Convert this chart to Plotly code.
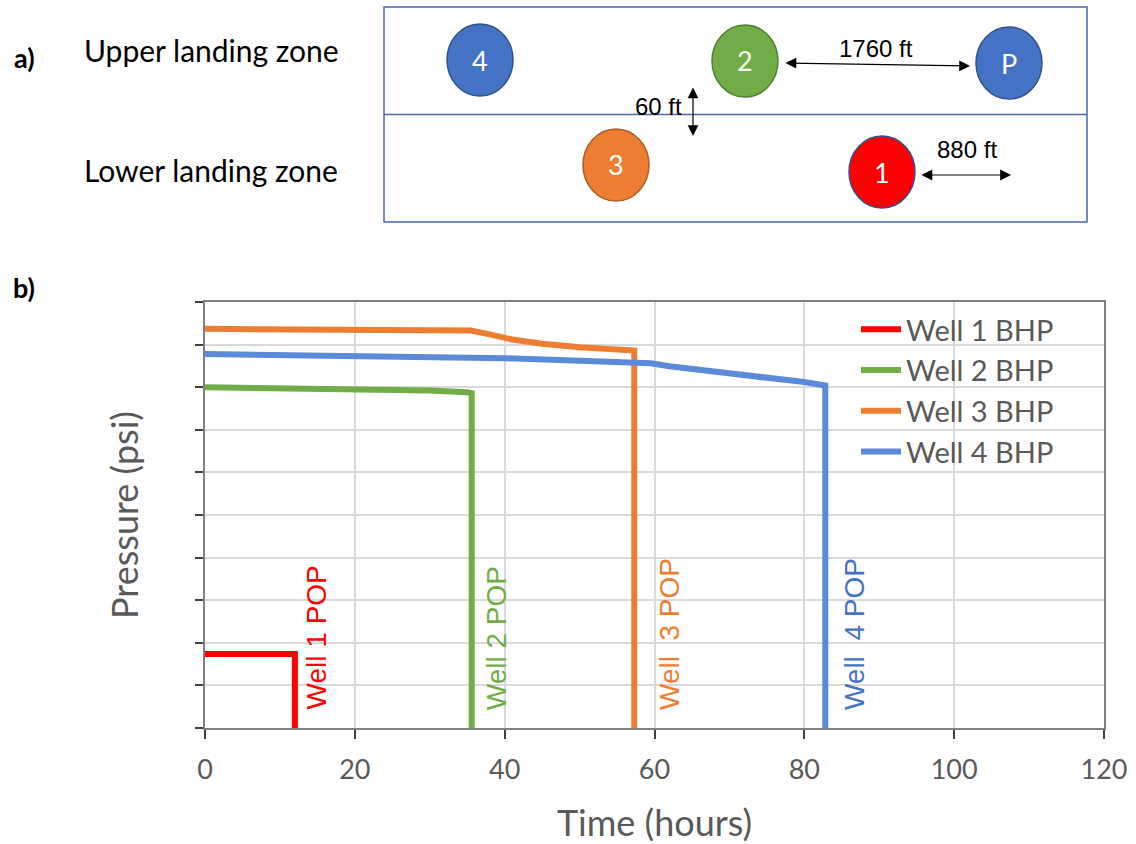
import plotly.graph_objects as go

# ---------------- data ----------------
well1_t = [0, 12.0, 12.0]
well1_p = [1.74, 1.74, 0]

well2_t = [0, 10, 20, 30, 35.0, 35.6, 35.6]
well2_p = [8.00, 7.98, 7.96, 7.92, 7.88, 7.86, 0]

well3_t = [0, 10, 20, 30, 35.5, 38, 41, 45, 50, 57.3, 57.3]
well3_p = [9.37, 9.36, 9.34, 9.33, 9.33, 9.24, 9.12, 9.02, 8.94, 8.86, 0]

well4_t = [0, 10, 20, 30, 40, 50, 57, 59.5, 62, 66, 71, 75, 80, 82.8, 82.8]
well4_p = [8.78, 8.76, 8.73, 8.71, 8.68, 8.62, 8.57, 8.56, 8.49, 8.41, 8.32, 8.24, 8.12, 8.04, 0]

series_names = ["Well 1 BHP", "Well 2 BHP", "Well 3 BHP", "Well 4 BHP"]
pop_labels = ["Well 1 POP", "Well 2 POP", "Well\u00a0 3 POP", "Well\u00a0 4 POP"]
pop_label_t = [14.9, 38.9, 62.1, 86.8]
x_ticks = [0, 20, 40, 60, 80, 100, 120]

line_colors = ["#FF0000", "#70AD47", "#ED7D31", "#5B8AD8"]
label_colors = ["#FF0000", "#70AD47", "#ED7D31", "#4472C4"]

# ---------------- figure geometry ----------------
W, H = 1136, 844
ML, MR, MT, MB = 205, 32, 302, 116
PW, PH = W - ML - MR, H - MT - MB


def X(px):
    return (px - ML) / PW


def Y(py):
    return (H - MB - py) / PH


fig = go.Figure()
for t, p, name, col in zip([well1_t, well2_t, well3_t, well4_t],
                           [well1_p, well2_p, well3_p, well4_p],
                           series_names, line_colors):
    fig.add_trace(go.Scatter(x=t, y=p, mode="lines", name=name,
                             line=dict(color=col, width=6)))

annotations = []
for lab, t, col in zip(pop_labels, pop_label_t, label_colors):
    annotations.append(dict(x=t, y=0.38, xref="x", yref="y", text=lab, showarrow=False,
                            textangle=-90, xanchor="center", yanchor="bottom",
                            font=dict(family="Liberation Sans, Arial", size=28, color=col)))

# ---------------- schematic (panel a) ----------------
shapes = []
box_col = "#4A69A8"
shapes.append(dict(type="rect", xref="paper", yref="paper", x0=X(384), x1=X(1087), y0=Y(222), y1=Y(7),
                   line=dict(color=box_col, width=1.5), fillcolor="rgba(0,0,0,0)"))
shapes.append(dict(type="line", xref="paper", yref="paper", x0=X(384), x1=X(1087), y0=Y(114.5), y1=Y(114.5),
                   line=dict(color=box_col, width=1.5)))

wells = [  # label, cx, cy, fill, outline
    ("4", 480, 60, "#4472C4", "#2F528F"),
    ("2", 745, 61, "#70AD47", "#507E32"),
    ("P", 1009, 63, "#4472C4", "#2F528F"),
    ("3", 616, 165, "#ED7D31", "#AE5A21"),
    ("1", 882, 172, "#FF0000", "#2F528F"),
]
rx, ry = 33, 36
for lab, cx, cy, fill, edge in wells:
    shapes.append(dict(type="circle", xref="paper", yref="paper", x0=X(cx - rx), x1=X(cx + rx),
                       y0=Y(cy + ry), y1=Y(cy - ry), fillcolor=fill, line=dict(color=edge, width=1.5)))
    annotations.append(dict(x=X(cx), y=Y(cy), xref="paper", yref="paper", text=lab, showarrow=False,
                            xanchor="center", yanchor="middle",
                            font=dict(family="Lato", size=27, color="white")))

arrow_font = dict(family="Liberation Sans, Arial", size=24, color="black")
for (hx, hy, tx, ty) in [(970, 66, 784, 63), (693, 136, 693, 86), (1011, 175, 920, 175)]:
    annotations.append(dict(x=X(hx), y=Y(hy), xref="paper", yref="paper", axref="pixel", ayref="pixel",
                            ax=tx - hx, ay=ty - hy, text="", showarrow=True, arrowhead=2,
                            arrowside="end+start", arrowsize=1.8, arrowwidth=1.2, arrowcolor="black"))
for txt, cx, cy in [("1760 ft", 876, 48), ("60 ft", 658, 107), ("880 ft", 967, 149)]:
    annotations.append(dict(x=X(cx), y=Y(cy), xref="paper", yref="paper", text=txt, showarrow=False,
                            xanchor="center", yanchor="middle", font=arrow_font))

for txt, cy in [("Upper landing zone", 50), ("Lower landing zone", 170)]:
    annotations.append(dict(x=X(82), y=Y(cy), xref="paper", yref="paper", text=txt, showarrow=False,
                            xanchor="left", yanchor="middle",
                            font=dict(family="Lato", size=30, color="black")))
for txt, cy in [("<b>a)</b>", 57), ("<b>b)</b>", 287)]:
    annotations.append(dict(x=X(24), y=Y(cy), xref="paper", yref="paper", text=txt, showarrow=False,
                            xanchor="center", yanchor="middle",
                            font=dict(family="Lato", size=27, color="black")))

axis_col = "#7F7F7F"
fig.update_layout(
    width=W, height=H,
    margin=dict(l=ML, r=MR, t=MT, b=MB, autoexpand=False),
    paper_bgcolor="white", plot_bgcolor="white",
    showlegend=True,
    legend=dict(x=X(856), y=Y(304), xanchor="left", yanchor="top",
                font=dict(family="Lato", size=29, color="#595959"),
                bgcolor="rgba(0,0,0,0)", itemwidth=40, tracegroupgap=0),
    xaxis=dict(range=[0, 120], tickvals=x_ticks, showgrid=True, gridcolor="#D9D9D9", gridwidth=1.5,
               zeroline=False, showline=True, linecolor=axis_col, linewidth=1.5, mirror=True,
               ticks="outside", ticklen=9, tickcolor="#404040", tickwidth=1.5, ticklabelstandoff=8,
               tickfont=dict(family="Lato", size=27, color="#595959"),
               title=dict(text="Time (hours)", standoff=30,
                          font=dict(family="Lato", size=36, color="#595959"))),
    yaxis=dict(range=[0, 10], dtick=1, showgrid=True, gridcolor="#D9D9D9", gridwidth=1.5,
               zeroline=False, showline=True, linecolor=axis_col, linewidth=1.5, mirror=True,
               ticks="outside", ticklen=8, tickcolor="#404040", tickwidth=1.5, showticklabels=False,
               title=dict(text="Pressure (psi)", standoff=46,
                          font=dict(family="Lato", size=36, color="#595959"))),
    shapes=shapes,
    annotations=annotations,
)

fig.write_html("out.html", config={"displayModeBar": False},
               post_script="document.body.style.margin='0';")
